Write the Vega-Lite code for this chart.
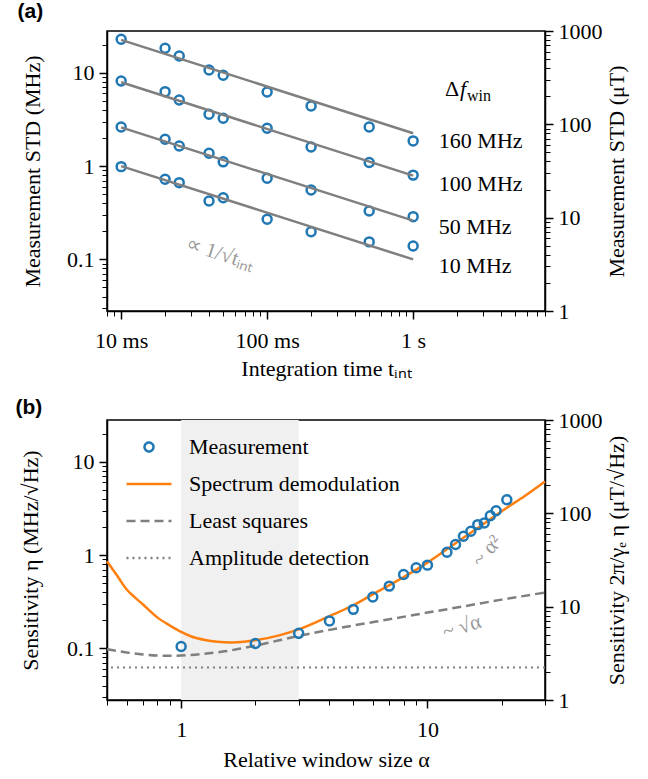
{
  "$schema": "https://vega.github.io/schema/vega-lite/v6.json",
  "padding": {"left": 14, "right": 5, "top": 0, "bottom": 3},
  "spacing": 16,
  "resolve": {"scale": {"color": "independent"}, "legend": {"color": "independent"}},
  "config": {
    "font": "Liberation Serif",
    "view": {"stroke": "black", "strokeWidth": 1.5},
    "axis": {
      "grid": false,
      "domainColor": "black",
      "domainWidth": 1.5,
      "tickColor": "black",
      "labelColor": "black",
      "titleColor": "black",
      "labelFont": "Liberation Serif",
      "titleFont": "Liberation Serif",
      "labelFontSize": 22,
      "titleFontSize": 22,
      "titleFontWeight": "normal",
      "labelOverlap": false,
      "labelPadding": 5,
      "labelBound": false,
      "labelFlush": false
    }
  },
  "datasets": {
    "measA": [
      {"series": "160", "t": 0.01, "mhz": 22.8}, {"series": "160", "t": 0.02, "mhz": 18.3}, {"series": "160", "t": 0.025, "mhz": 15.1}, {"series": "160", "t": 0.04, "mhz": 10.7}, {"series": "160", "t": 0.05, "mhz": 9.39}, {"series": "160", "t": 0.1, "mhz": 6.22}, {"series": "160", "t": 0.2, "mhz": 4.4}, {"series": "160", "t": 0.5, "mhz": 2.62}, {"series": "160", "t": 1, "mhz": 1.86},
      {"series": "100", "t": 0.01, "mhz": 8.16}, {"series": "100", "t": 0.02, "mhz": 6.27}, {"series": "100", "t": 0.025, "mhz": 5.11}, {"series": "100", "t": 0.04, "mhz": 3.59}, {"series": "100", "t": 0.05, "mhz": 3.25}, {"series": "100", "t": 0.1, "mhz": 2.54}, {"series": "100", "t": 0.2, "mhz": 1.6}, {"series": "100", "t": 0.5, "mhz": 1.09}, {"series": "100", "t": 1, "mhz": 0.8},
      {"series": "50", "t": 0.01, "mhz": 2.62}, {"series": "50", "t": 0.02, "mhz": 1.94}, {"series": "50", "t": 0.025, "mhz": 1.64}, {"series": "50", "t": 0.04, "mhz": 1.37}, {"series": "50", "t": 0.05, "mhz": 1.11}, {"series": "50", "t": 0.1, "mhz": 0.74}, {"series": "50", "t": 0.2, "mhz": 0.554}, {"series": "50", "t": 0.5, "mhz": 0.33}, {"series": "50", "t": 1, "mhz": 0.287},
      {"series": "10", "t": 0.01, "mhz": 0.986}, {"series": "10", "t": 0.02, "mhz": 0.721}, {"series": "10", "t": 0.025, "mhz": 0.664}, {"series": "10", "t": 0.04, "mhz": 0.423}, {"series": "10", "t": 0.05, "mhz": 0.458}, {"series": "10", "t": 0.1, "mhz": 0.269}, {"series": "10", "t": 0.2, "mhz": 0.198}, {"series": "10", "t": 0.5, "mhz": 0.154}, {"series": "10", "t": 1, "mhz": 0.139}
    ],
    "fitA": [
      {"series": "160", "t": 0.01, "mhz": 22.5}, {"series": "160", "t": 1, "mhz": 2.25},
      {"series": "100", "t": 0.01, "mhz": 7.9}, {"series": "100", "t": 1, "mhz": 0.79},
      {"series": "50", "t": 0.01, "mhz": 2.6}, {"series": "50", "t": 1, "mhz": 0.26},
      {"series": "10", "t": 0.01, "mhz": 1.0}, {"series": "10", "t": 1, "mhz": 0.1}
    ],
    "labelsA": [
      {"t": 1.5, "mhz": 1.86, "label": "160 MHz"},
      {"t": 1.5, "mhz": 0.643, "label": "100 MHz"},
      {"t": 1.5, "mhz": 0.222, "label": "50 MHz"},
      {"t": 1.5, "mhz": 0.085, "label": "10 MHz"}
    ],
    "measB": [
      {"series": "Measurement", "alpha": 1, "eta": 0.105}, {"series": "Measurement", "alpha": 2, "eta": 0.113}, {"series": "Measurement", "alpha": 3, "eta": 0.145}, {"series": "Measurement", "alpha": 4, "eta": 0.197}, {"series": "Measurement", "alpha": 5, "eta": 0.262}, {"series": "Measurement", "alpha": 6, "eta": 0.355}, {"series": "Measurement", "alpha": 7, "eta": 0.465}, {"series": "Measurement", "alpha": 8, "eta": 0.62}, {"series": "Measurement", "alpha": 9, "eta": 0.731}, {"series": "Measurement", "alpha": 10, "eta": 0.78}, {"series": "Measurement", "alpha": 12, "eta": 1.07}, {"series": "Measurement", "alpha": 13, "eta": 1.3}, {"series": "Measurement", "alpha": 14, "eta": 1.59}, {"series": "Measurement", "alpha": 15, "eta": 1.8}, {"series": "Measurement", "alpha": 16, "eta": 2.12}, {"series": "Measurement", "alpha": 17, "eta": 2.21}, {"series": "Measurement", "alpha": 18, "eta": 2.64}, {"series": "Measurement", "alpha": 19, "eta": 2.99}, {"series": "Measurement", "alpha": 21, "eta": 3.92}
    ],
    "curveSD": [
      {"series": "Spectrum demodulation", "alpha": 0.5, "eta": 0.86}, {"series": "Spectrum demodulation", "alpha": 0.55, "eta": 0.6}, {"series": "Spectrum demodulation", "alpha": 0.6, "eta": 0.43}, {"series": "Spectrum demodulation", "alpha": 0.65, "eta": 0.35}, {"series": "Spectrum demodulation", "alpha": 0.7, "eta": 0.295}, {"series": "Spectrum demodulation", "alpha": 0.8, "eta": 0.215}, {"series": "Spectrum demodulation", "alpha": 0.9, "eta": 0.176}, {"series": "Spectrum demodulation", "alpha": 1.0, "eta": 0.15}, {"series": "Spectrum demodulation", "alpha": 1.1, "eta": 0.134}, {"series": "Spectrum demodulation", "alpha": 1.25, "eta": 0.123}, {"series": "Spectrum demodulation", "alpha": 1.4, "eta": 0.118}, {"series": "Spectrum demodulation", "alpha": 1.6, "eta": 0.116}, {"series": "Spectrum demodulation", "alpha": 1.8, "eta": 0.118}, {"series": "Spectrum demodulation", "alpha": 2.0, "eta": 0.122}, {"series": "Spectrum demodulation", "alpha": 2.5, "eta": 0.138}, {"series": "Spectrum demodulation", "alpha": 3, "eta": 0.16}, {"series": "Spectrum demodulation", "alpha": 4, "eta": 0.222}, {"series": "Spectrum demodulation", "alpha": 5, "eta": 0.29}, {"series": "Spectrum demodulation", "alpha": 6, "eta": 0.38}, {"series": "Spectrum demodulation", "alpha": 8, "eta": 0.58}, {"series": "Spectrum demodulation", "alpha": 10, "eta": 0.83}, {"series": "Spectrum demodulation", "alpha": 13, "eta": 1.34}, {"series": "Spectrum demodulation", "alpha": 16, "eta": 1.95}, {"series": "Spectrum demodulation", "alpha": 20, "eta": 2.95}, {"series": "Spectrum demodulation", "alpha": 25, "eta": 4.35}, {"series": "Spectrum demodulation", "alpha": 30, "eta": 6.15}
    ],
    "curveLS": [
      {"series": "Least squares", "alpha": 0.5, "eta": 0.098}, {"series": "Least squares", "alpha": 0.6, "eta": 0.0905}, {"series": "Least squares", "alpha": 0.7, "eta": 0.0862}, {"series": "Least squares", "alpha": 0.8, "eta": 0.0838}, {"series": "Least squares", "alpha": 0.9, "eta": 0.0832}, {"series": "Least squares", "alpha": 1.0, "eta": 0.0838}, {"series": "Least squares", "alpha": 1.2, "eta": 0.0866}, {"series": "Least squares", "alpha": 1.5, "eta": 0.093}, {"series": "Least squares", "alpha": 2.0, "eta": 0.107}, {"series": "Least squares", "alpha": 2.5, "eta": 0.122}, {"series": "Least squares", "alpha": 3, "eta": 0.136}, {"series": "Least squares", "alpha": 4, "eta": 0.158}, {"series": "Least squares", "alpha": 5, "eta": 0.176}, {"series": "Least squares", "alpha": 7, "eta": 0.205}, {"series": "Least squares", "alpha": 10, "eta": 0.242}, {"series": "Least squares", "alpha": 14, "eta": 0.282}, {"series": "Least squares", "alpha": 20, "eta": 0.333}, {"series": "Least squares", "alpha": 30, "eta": 0.397}
    ]
  },
  "vconcat": [
    {
      "title": {"text": "(a)", "anchor": "start", "frame": "bounds", "font": "Liberation Sans", "fontSize": 21, "fontWeight": "bold", "color": "black", "offset": -2, "dx": -4},
      "width": 438,
      "height": 280,
      "layer": [
        {
          "layer": [
            {
              "data": {"name": "measA"},
              "mark": {"type": "point", "filled": false, "color": "#1f77b4", "strokeWidth": 2.5, "size": 80, "opacity": 1},
              "encoding": {
                "x": {"field": "t", "type": "quantitative", "scale": {"type": "log", "domain": [0.008, 8], "nice": false},
                  "axis": {"title": "Integration time tᵢₙₜ", "values": [0.008, 0.009, 0.01, 0.02, 0.03, 0.04, 0.05, 0.06, 0.07, 0.08, 0.09, 0.1, 0.2, 0.3, 0.4, 0.5, 0.6, 0.7, 0.8, 0.9, 1, 2, 3, 4, 5, 6, 7, 8],
                    "labelExpr": "datum.value == 0.01 ? '10 ms' : datum.value == 0.1 ? '100 ms' : datum.value == 1 ? '1 s' : ''",
                    "tickSize": {"condition": {"test": "datum.value == 0.01 || datum.value == 0.1 || datum.value == 1", "value": 8}, "value": 5},
                    "tickWidth": {"condition": {"test": "datum.value == 0.01 || datum.value == 0.1 || datum.value == 1", "value": 1.5}, "value": 1},
                    "labelPadding": 11, "titlePadding": 7}},
                "y": {"field": "mhz", "type": "quantitative", "scale": {"type": "log", "domain": [0.028, 28], "nice": false},
                  "axis": {"title": "Measurement STD (MHz)", "orient": "left", "values": [0.03, 0.04, 0.05, 0.06, 0.07, 0.08, 0.09, 0.1, 0.2, 0.3, 0.4, 0.5, 0.6, 0.7, 0.8, 0.9, 1, 2, 3, 4, 5, 6, 7, 8, 9, 10, 20],
                    "labelExpr": "datum.value == 0.1 ? '0.1' : datum.value == 1 ? '1' : datum.value == 10 ? '10' : ''",
                    "tickSize": {"condition": {"test": "datum.value == 0.1 || datum.value == 1 || datum.value == 10", "value": 8}, "value": 5},
                    "tickWidth": {"condition": {"test": "datum.value == 0.1 || datum.value == 1 || datum.value == 10", "value": 1.5}, "value": 1},
                    "titlePadding": 22}}
              }
            },
            {
              "data": {"name": "fitA"},
              "mark": {"type": "line", "color": "#7f7f7f", "strokeWidth": 2.5},
              "encoding": {
                "x": {"field": "t", "type": "quantitative"},
                "y": {"field": "mhz", "type": "quantitative"},
                "detail": {"field": "series"}
              }
            },
            {
              "data": {"name": "labelsA"},
              "mark": {"type": "text", "align": "left", "baseline": "middle", "fontSize": 22, "color": "black"},
              "encoding": {
                "x": {"field": "t", "type": "quantitative"},
                "y": {"field": "mhz", "type": "quantitative"},
                "text": {"field": "label"}
              }
            },
            {
              "data": {"values": [{"t": 0.0475, "mhz": 0.114, "label": "∝ 1/√tᵢₙₜ"}]},
              "mark": {"type": "text", "align": "center", "baseline": "middle", "fontSize": 21, "angle": 18, "color": "#999999"},
              "encoding": {
                "x": {"field": "t", "type": "quantitative"},
                "y": {"field": "mhz", "type": "quantitative"},
                "text": {"field": "label"}
              }
            },
            {
              "data": {"values": [{"t": 1.65, "mhz": 6.7, "label": "Δ"}]},
              "mark": {"type": "text", "align": "left", "baseline": "middle", "fontSize": 22, "color": "black"},
              "encoding": {
                "x": {"field": "t", "type": "quantitative"},
                "y": {"field": "mhz", "type": "quantitative"},
                "text": {"field": "label"}
              }
            },
            {
              "data": {"values": [{"t": 1.65, "mhz": 6.7, "label": "f"}]},
              "mark": {"type": "text", "align": "left", "baseline": "middle", "fontSize": 22, "fontStyle": "italic", "dx": 15, "color": "black"},
              "encoding": {
                "x": {"field": "t", "type": "quantitative"},
                "y": {"field": "mhz", "type": "quantitative"},
                "text": {"field": "label"}
              }
            },
            {
              "data": {"values": [{"t": 1.65, "mhz": 6.7, "label": "win"}]},
              "mark": {"type": "text", "align": "left", "baseline": "middle", "fontSize": 16, "dx": 22, "dy": 7, "color": "black"},
              "encoding": {
                "x": {"field": "t", "type": "quantitative"},
                "y": {"field": "mhz", "type": "quantitative"},
                "text": {"field": "label"}
              }
            }
          ]
        },
        {
          "data": {"values": [{"ut": 1}, {"ut": 1000}]},
          "mark": {"type": "point", "opacity": 0},
          "encoding": {
            "y": {"field": "ut", "type": "quantitative", "scale": {"type": "log", "domain": [1, 1000], "nice": false},
              "axis": {"title": "Measurement STD (μT)", "orient": "right", "titleAngle": 270, "values": [1, 2, 3, 4, 5, 6, 7, 8, 9, 10, 20, 30, 40, 50, 60, 70, 80, 90, 100, 200, 300, 400, 500, 600, 700, 800, 900, 1000],
                "labelExpr": "datum.value == 1 ? '1' : datum.value == 10 ? '10' : datum.value == 100 ? '100' : datum.value == 1000 ? '1000' : ''",
                "tickSize": {"condition": {"test": "datum.value == 1 || datum.value == 10 || datum.value == 100 || datum.value == 1000", "value": 8}, "value": 5},
                "tickWidth": {"condition": {"test": "datum.value == 1 || datum.value == 10 || datum.value == 100 || datum.value == 1000", "value": 1.5}, "value": 1},
                "titlePadding": 26}}
          }
        }
      ],
      "resolve": {"scale": {"y": "independent"}}
    },
    {
      "title": {"text": "(b)", "anchor": "start", "frame": "bounds", "font": "Liberation Sans", "fontSize": 21, "fontWeight": "bold", "color": "black", "offset": -9, "dx": -4},
      "width": 438,
      "height": 280,
      "layer": [
        {
          "layer": [
            {
              "data": {"values": [{"a1": 1, "a2": 3}]},
              "mark": {"type": "rect", "color": "#f0f0f0"},
              "encoding": {
                "x": {"field": "a1", "type": "quantitative", "scale": {"type": "log", "domain": [0.5, 30], "nice": false},
                  "axis": {"title": "Relative window size α", "values": [0.5, 0.6, 0.7, 0.8, 0.9, 1, 2, 3, 4, 5, 6, 7, 8, 9, 10, 20, 30],
                    "labelExpr": "datum.value == 1 ? '1' : datum.value == 10 ? '10' : ''",
                    "tickSize": {"condition": {"test": "datum.value == 1 || datum.value == 10", "value": 8}, "value": 5},
                    "tickWidth": {"condition": {"test": "datum.value == 1 || datum.value == 10", "value": 1.5}, "value": 1},
                    "labelPadding": 11, "titlePadding": 9}},
                "x2": {"field": "a2"}
              }
            },
            {
              "data": {"values": [{"series": "Amplitude detection", "eta": 0.0625}]},
              "mark": {"type": "rule", "strokeDash": [2, 4], "strokeWidth": 2},
              "encoding": {
                "y": {"field": "eta", "type": "quantitative", "scale": {"type": "log", "domain": [0.028, 28], "nice": false},
                  "axis": {"title": "Sensitivity η  (MHz/√Hz)", "orient": "left", "values": [0.03, 0.04, 0.05, 0.06, 0.07, 0.08, 0.09, 0.1, 0.2, 0.3, 0.4, 0.5, 0.6, 0.7, 0.8, 0.9, 1, 2, 3, 4, 5, 6, 7, 8, 9, 10, 20],
                    "labelExpr": "datum.value == 0.1 ? '0.1' : datum.value == 1 ? '1' : datum.value == 10 ? '10' : ''",
                    "tickSize": {"condition": {"test": "datum.value == 0.1 || datum.value == 1 || datum.value == 10", "value": 8}, "value": 5},
                    "tickWidth": {"condition": {"test": "datum.value == 0.1 || datum.value == 1 || datum.value == 10", "value": 1.5}, "value": 1},
                    "titlePadding": 24}},
                "color": {"field": "series", "type": "nominal",
                  "scale": {"domain": ["Measurement", "Spectrum demodulation", "Least squares", "Amplitude detection"], "range": ["#1f77b4", "#ff7f0e", "#7f7f7f", "#7f7f7f"]},
                  "legend": {"title": null, "orient": "none", "legendX": 10, "legendY": -5, "padding": 8,
                    "symbolType": "stroke", "symbolSize": 2025, "symbolStrokeWidth": 2.5,
                    "labelFont": "Liberation Serif", "labelFontSize": 22, "labelColor": "black", "labelOffset": 16, "rowPadding": 2, "labelLimit": 500,
                    "encode": {"symbols": {"update": {
                      "shape": {"signal": "datum.value === 'Measurement' ? 'circle' : 'stroke'"},
                      "size": {"signal": "datum.value === 'Measurement' ? 80 : 2025"},
                      "fill": {"value": "transparent"},
                      "stroke": {"signal": "datum.value === 'Measurement' ? '#1f77b4' : datum.value === 'Spectrum demodulation' ? '#ff7f0e' : '#7f7f7f'"},
                      "strokeDash": {"signal": "datum.value === 'Least squares' ? [9, 5] : datum.value === 'Amplitude detection' ? [2, 4] : [1, 0]"},
                      "strokeWidth": {"value": 2.5},
                      "opacity": {"value": 1}
                    }}}}
                }
              }
            },
            {
              "data": {"name": "curveLS"},
              "mark": {"type": "line", "strokeDash": [9, 5], "strokeWidth": 2.5, "interpolate": "monotone"},
              "encoding": {
                "x": {"field": "alpha", "type": "quantitative"},
                "y": {"field": "eta", "type": "quantitative"},
                "color": {"field": "series", "type": "nominal"}
              }
            },
            {
              "data": {"name": "curveSD"},
              "mark": {"type": "line", "strokeWidth": 2.5, "interpolate": "monotone"},
              "encoding": {
                "x": {"field": "alpha", "type": "quantitative"},
                "y": {"field": "eta", "type": "quantitative"},
                "color": {"field": "series", "type": "nominal"}
              }
            },
            {
              "data": {"name": "measB"},
              "mark": {"type": "point", "filled": false, "strokeWidth": 2.5, "size": 80, "opacity": 1},
              "encoding": {
                "x": {"field": "alpha", "type": "quantitative"},
                "y": {"field": "eta", "type": "quantitative"},
                "color": {"field": "series", "type": "nominal"}
              }
            },
            {
              "data": {"values": [{"alpha": 17.5, "eta": 1.1, "label": "~ α²"}]},
              "mark": {"type": "text", "align": "center", "baseline": "middle", "fontSize": 21, "angle": 310, "color": "#999999"},
              "encoding": {
                "x": {"field": "alpha", "type": "quantitative"},
                "y": {"field": "eta", "type": "quantitative"},
                "text": {"field": "label"}
              }
            },
            {
              "data": {"values": [{"alpha": 13.8, "eta": 0.168, "label": "~ √α"}]},
              "mark": {"type": "text", "align": "center", "baseline": "middle", "fontSize": 21, "angle": 342, "color": "#999999"},
              "encoding": {
                "x": {"field": "alpha", "type": "quantitative"},
                "y": {"field": "eta", "type": "quantitative"},
                "text": {"field": "label"}
              }
            }
          ]
        },
        {
          "data": {"values": [{"ut": 1}, {"ut": 1000}]},
          "mark": {"type": "point", "opacity": 0},
          "encoding": {
            "y": {"field": "ut", "type": "quantitative", "scale": {"type": "log", "domain": [1, 1000], "nice": false},
              "axis": {"title": "Sensitivity 2π/γₑ η  (μT/√Hz)", "orient": "right", "titleAngle": 270, "values": [1, 2, 3, 4, 5, 6, 7, 8, 9, 10, 20, 30, 40, 50, 60, 70, 80, 90, 100, 200, 300, 400, 500, 600, 700, 800, 900, 1000],
                "labelExpr": "datum.value == 1 ? '1' : datum.value == 10 ? '10' : datum.value == 100 ? '100' : datum.value == 1000 ? '1000' : ''",
                "tickSize": {"condition": {"test": "datum.value == 1 || datum.value == 10 || datum.value == 100 || datum.value == 1000", "value": 8}, "value": 5},
                "tickWidth": {"condition": {"test": "datum.value == 1 || datum.value == 10 || datum.value == 100 || datum.value == 1000", "value": 1.5}, "value": 1},
                "titlePadding": 26}}
          }
        }
      ],
      "resolve": {"scale": {"y": "independent"}}
    }
  ]
}
